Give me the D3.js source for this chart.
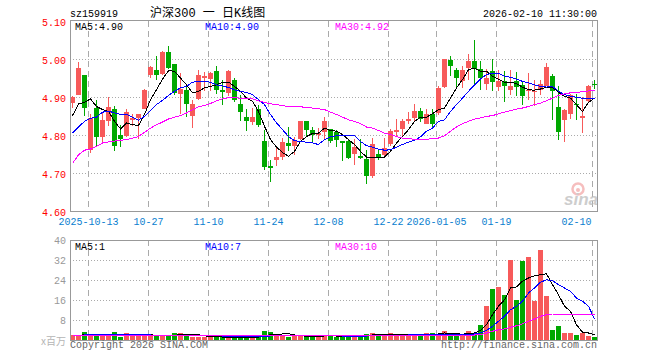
<!doctype html>
<html lang="zh">
<head>
  <meta charset="utf-8">
  <title>沪深300 日K线图</title>
  <style>
    body { margin: 0; background: #fff; }
    svg { display: block; }
    text { font-family: "Liberation Mono", "DejaVu Sans Mono", monospace; font-size: 10px; }
    .grid-h { stroke: #aaa; stroke-dasharray: 1,2; shape-rendering: crispEdges; }
    .grid-v { stroke: #aaa; stroke-dasharray: 6,4; shape-rendering: crispEdges; }
    .frame { fill: none; stroke: #999; shape-rendering: crispEdges; }
    .ma { fill: none; stroke-width: 1; shape-rendering: crispEdges; }
  </style>
</head>
<body>
  <div id="chart"></div>

  <script src="https://cdn.jsdelivr.net/npm/d3@7/dist/d3.min.js"></script>
  <script>
  // daily candles sz159919, 2025-09-30 .. 2026-02-10 (88 sessions)
  var opens = [4.884,4.906,4.959,4.761,4.871,4.796,4.836,4.869,4.800,4.798,
    4.839,4.844,4.869,4.957,4.972,4.961,5.018,4.986,4.909,4.919,
    4.851,4.895,4.950,4.947,4.968,4.918,4.911,4.946,4.882,4.847,
    4.833,4.868,4.783,4.718,4.733,4.742,4.779,4.770,4.789,4.836,
    4.814,4.800,4.807,4.816,4.807,4.783,4.783,4.751,4.744,4.737,
    4.693,4.751,4.748,4.775,4.809,4.816,4.836,4.845,4.862,4.830,
    4.856,4.858,4.926,4.998,4.970,4.941,4.976,4.996,4.974,4.935,
    4.968,4.926,4.941,4.918,4.941,4.932,4.916,4.912,4.919,4.930,
    4.956,4.874,4.839,4.854,4.882,4.844,4.889,4.934];
  var closes = [4.900,4.977,4.871,4.845,4.794,4.840,4.874,4.770,4.789,4.861,
    4.846,4.856,4.919,4.979,4.959,5.018,4.977,4.911,4.921,4.882,
    4.882,4.959,4.956,4.963,4.918,4.912,4.968,4.893,4.860,4.836,
    4.847,4.827,4.715,4.712,4.741,4.781,4.770,4.786,4.836,4.812,
    4.801,4.806,4.836,4.783,4.786,4.779,4.739,4.768,4.739,4.691,
    4.777,4.739,4.767,4.810,4.814,4.836,4.843,4.862,4.842,4.854,
    4.830,4.924,5.000,4.981,4.950,4.970,4.996,4.974,4.950,4.950,
    4.939,4.941,4.928,4.928,4.926,4.902,4.919,4.915,4.935,4.978,
    4.915,4.807,4.867,4.904,4.880,4.851,4.930,4.933];
  var highs = [4.903,4.993,4.959,4.856,4.893,4.860,4.900,4.875,4.827,4.868,
    4.856,4.856,4.922,4.982,5.007,5.021,5.033,4.986,4.963,4.932,
    4.891,4.970,4.966,4.967,4.981,4.946,4.972,4.951,4.906,4.868,
    4.871,4.879,4.814,4.735,4.770,4.792,4.821,4.796,4.836,4.836,
    4.821,4.819,4.847,4.816,4.814,4.783,4.788,4.789,4.789,4.761,
    4.792,4.760,4.792,4.816,4.842,4.842,4.860,4.882,4.871,4.869,
    4.869,4.930,5.000,5.009,4.976,4.982,5.014,5.051,4.994,4.974,
    5.000,4.972,4.968,4.970,4.965,4.939,4.963,4.944,4.944,4.989,
    4.961,4.928,4.868,4.907,4.907,4.900,4.932,4.944];
  var lows = [4.871,4.904,4.851,4.753,4.770,4.779,4.823,4.757,4.768,4.795,
    4.823,4.789,4.869,4.949,4.944,4.959,4.974,4.906,4.856,4.847,
    4.818,4.893,4.915,4.915,4.907,4.880,4.902,4.886,4.836,4.810,
    4.827,4.821,4.707,4.675,4.719,4.735,4.757,4.748,4.787,4.795,
    4.779,4.789,4.789,4.779,4.768,4.731,4.737,4.722,4.737,4.672,
    4.687,4.735,4.746,4.772,4.798,4.798,4.830,4.836,4.833,4.830,
    4.816,4.853,4.924,4.954,4.921,4.924,4.946,4.935,4.919,4.918,
    4.915,4.915,4.886,4.904,4.902,4.880,4.893,4.877,4.906,4.928,
    4.840,4.786,4.781,4.842,4.839,4.804,4.886,4.921];

  // price moving averages as drawn
  var ma5 = [4.851,4.882,4.886,4.895,4.875,4.867,4.862,4.836,4.816,4.832,
    4.827,4.825,4.854,4.893,4.919,4.947,4.969,4.968,4.950,4.932,
    4.911,4.915,4.924,4.928,4.932,4.939,4.939,4.928,4.915,4.897,
    4.889,4.862,4.823,4.788,4.768,4.754,4.744,4.757,4.783,4.796,
    4.804,4.805,4.818,4.812,4.810,4.801,4.788,4.775,4.757,4.742,
    4.742,4.742,4.742,4.757,4.779,4.796,4.814,4.836,4.847,4.847,
    4.856,4.867,4.871,4.897,4.924,4.946,4.972,4.976,4.968,4.968,
    4.954,4.947,4.939,4.939,4.935,4.926,4.919,4.918,4.921,4.926,
    4.926,4.912,4.902,4.897,4.880,4.862,4.886,4.897];
  var ma10 = [4.805,4.821,4.836,4.844,4.847,4.860,4.863,4.858,4.854,4.854,
    4.847,4.839,4.849,4.865,4.880,4.891,4.904,4.915,4.924,4.928,
    4.939,4.941,4.941,4.939,4.932,4.929,4.925,4.919,4.915,4.912,
    4.906,4.893,4.880,4.854,4.832,4.814,4.796,4.785,4.783,4.781,
    4.779,4.775,4.788,4.795,4.798,4.798,4.798,4.798,4.783,4.772,
    4.768,4.763,4.760,4.761,4.768,4.775,4.781,4.786,4.795,4.810,
    4.818,4.836,4.840,4.862,4.880,4.897,4.915,4.932,4.947,4.959,
    4.963,4.963,4.954,4.952,4.947,4.941,4.937,4.932,4.928,4.926,
    4.928,4.915,4.906,4.902,4.899,4.897,4.897,4.897];
  var ma30 = [4.725,4.748,4.760,4.763,4.770,4.779,4.782,4.784,4.786,4.788,
    4.792,4.796,4.807,4.818,4.827,4.834,4.842,4.847,4.851,4.858,
    4.867,4.874,4.878,4.883,4.890,4.895,4.898,4.898,4.897,4.895,
    4.895,4.890,4.886,4.882,4.880,4.877,4.875,4.874,4.874,4.873,
    4.871,4.869,4.867,4.860,4.854,4.847,4.840,4.836,4.830,4.821,
    4.818,4.812,4.805,4.801,4.796,4.792,4.790,4.789,4.789,4.789,
    4.790,4.792,4.798,4.810,4.821,4.830,4.836,4.842,4.845,4.849,
    4.851,4.856,4.860,4.864,4.868,4.871,4.875,4.880,4.884,4.890,
    4.897,4.904,4.908,4.911,4.912,4.914,4.916,4.918];

  // volume, millions of units
  var volumes = [1.9,1.9,3.1,2.1,1.9,1.9,1.9,3.1,1.3,2.7,
    1.9,1.9,1.9,1.9,1.6,1.6,1.6,2.9,2.9,1.9,
    1.3,1.3,1.3,1.2,1.2,1.2,1.2,1.2,1.2,1.2,
    1.2,1.2,3.7,3.3,2.1,1.9,1.3,1.5,1.5,1.5,
    1.5,1.5,1.9,2.1,1.2,1.2,1.2,2.1,1.5,2.5,
    2.9,1.5,1.9,2.9,1.9,1.9,1.9,1.9,2.5,2.9,
    2.9,1.9,3.7,1.9,1.9,1.9,3.7,2.9,6.1,13.5,
    20.5,21.1,17.9,32.1,15.9,31.7,33.1,15.5,36.1,17.5,
    4.1,5.7,2.9,2.9,2.1,2.7,1.7,1.1];
  var volMa5 = [1.8,1.8,2.1,2.2,2.2,2.2,2.2,2.2,1.9,2.2,
    2.2,2.2,1.9,2.1,1.8,1.7,1.7,1.9,2.1,2.2,
    2.1,2.1,1.7,1.3,1.3,1.2,1.2,1.2,1.2,1.2,
    1.2,1.2,1.7,2.1,2.3,2.4,2.5,2.0,1.7,1.5,
    1.5,1.5,1.6,1.7,1.6,1.6,1.6,1.7,1.6,1.7,
    2.0,2.1,2.2,2.3,2.2,2.0,2.1,2.1,2.0,2.2,
    2.4,2.4,2.8,2.7,2.5,2.3,2.8,2.8,3.9,6.1,
    10.1,13.5,16.1,20.8,21.2,23.5,24.8,25.7,26.1,26.5,
    22.1,18.1,13.5,11.5,6.1,3.1,2.8,2.1];
  var volMa10 = [2.0,2.0,2.0,2.1,2.1,2.1,2.1,2.1,2.1,2.1,
    2.1,2.1,2.1,2.0,2.0,2.0,1.9,1.9,1.9,1.9,
    1.9,1.9,1.8,1.7,1.7,1.6,1.6,1.5,1.4,1.4,
    1.3,1.3,1.4,1.6,1.7,1.8,1.9,1.9,1.9,1.9,
    1.9,1.9,1.8,1.8,1.7,1.6,1.6,1.6,1.6,1.6,
    1.7,1.8,1.8,1.9,2.0,2.0,2.0,2.1,2.1,2.2,
    2.2,2.2,2.3,2.3,2.3,2.3,2.1,2.4,2.8,3.9,
    5.5,7.5,9.5,12.1,13.5,15.5,18.8,20.8,23.1,24.1,
    23.7,22.1,20.8,19.5,16.8,15.5,13.5,8.4];
  var volMa30 = [2.0,2.0,2.0,2.0,2.0,2.0,2.0,2.0,2.0,2.0,
    2.0,2.0,2.0,2.0,2.0,2.0,2.0,2.0,2.0,2.0,
    1.9,1.9,1.9,1.9,1.9,1.9,1.9,1.9,1.9,1.9,
    1.9,1.9,1.9,1.9,1.9,1.9,1.9,1.9,1.9,1.9,
    1.9,1.8,1.8,1.8,1.8,1.8,1.8,1.8,1.8,1.8,
    1.8,1.8,1.8,1.8,1.8,1.8,1.8,1.8,1.8,1.8,
    1.8,1.9,1.9,1.9,1.9,2.0,2.0,2.0,2.1,2.8,
    3.5,4.1,4.4,5.1,5.7,6.5,7.5,8.4,9.5,10.1,
    10.4,10.4,10.4,10.4,10.4,10.4,10.4,10.4];

  // legend readouts as printed on the chart
  var priceLegend = [4.90, 4.90, 4.92];
  var volLegend = [1, 7, 10];

  // axis ticks
  var dateTickIdx = [3, 13, 23, 33, 43, 53, 61, 71, 87];
  var dateTickLabels = ["2025-10-13", "10-27", "11-10", "11-24", "12-08", "12-22", "2026-01-05", "01-19", "02-10"];
  var priceTicks = [4.60, 4.70, 4.80, 4.90, 5.00, 5.10];
  var volTicks = [8, 16, 24, 32, 40];

  (function(){
    var width = 660, height = 360;
    var upColor = "#f75a5a", downColor = "#00a800";
    var maColors = ["#000", "#0000ff", "#ff00ff"];

    var svg = d3.select("#chart").append("svg")
        .attr("width", width)
        .attr("height", height);

    // one slot of 6px per session, body 5px wide
    var x = d3.scaleLinear().domain([0, opens.length]).range([70, 598]);
    var y = d3.scaleLinear().domain([4.6, 5.1]).range([211, 21]);
    var yv = d3.scaleLinear().domain([0, 40]).range([340, 240]);
    var left = 70, right = x(opens.length) - 1;

    // header
    svg.append("text").attr("x", 70).attr("y", 16.5).text("sz159919");
    svg.append("text").attr("x", 150).attr("y", 17)
        .style("font-family", '"Liberation Mono", "Noto Sans CJK SC", monospace').style("font-size", "12px")
        .text("沪深300 一 日K线图");
    svg.append("text").attr("x", right).attr("y", 16.5).attr("text-anchor", "end")
        .text("2026-02-10 11:30:00");

    // grids
    svg.append("g").selectAll("line").data(priceTicks.slice(1, -1)).enter().append("line")
        .attr("class", "grid-h")
        .attr("x1", left).attr("x2", right)
        .attr("y1", function(d){ return Math.round(y(d)) + 0.5; })
        .attr("y2", function(d){ return Math.round(y(d)) + 0.5; });
    svg.append("g").selectAll("line").data(volTicks.slice(0, -1)).enter().append("line")
        .attr("class", "grid-h")
        .attr("x1", left).attr("x2", right)
        .attr("y1", function(d){ return yv(d) + 0.5; })
        .attr("y2", function(d){ return yv(d) + 0.5; });

    [[y(5.1), y(4.6)], [yv(40), yv(0)]].forEach(function(r){
      svg.append("g").selectAll("line").data(dateTickIdx).enter().append("line")
          .attr("class", "grid-v")
          .attr("x1", function(d){ return x(d) + 0.5; })
          .attr("x2", function(d){ return x(d) + 0.5; })
          .attr("y1", r[0]).attr("y2", r[1]);
    });

    // sina watermark
    var wm = svg.append("g").attr("opacity", 0.75);
    wm.append("circle").attr("cx", 578).attr("cy", 189).attr("r", 5.5)
        .attr("fill", "none").attr("stroke", "#f3a9a9").attr("stroke-width", 2.5);
    wm.append("circle").attr("cx", 578).attr("cy", 190).attr("r", 2).attr("fill", "#f3a9a9");
    wm.append("text").attr("x", 581).attr("y", 205).attr("text-anchor", "middle")
        .style("font-family", '"Liberation Sans", sans-serif')
        .style("font-size", "17px").style("font-weight", "bold").style("font-style", "italic")
        .attr("fill", "#bdbdbd").text("sina");

    // candles
    var idx = d3.range(opens.length);
    var candles = svg.append("g").attr("shape-rendering", "crispEdges");
    var colorOf = function(i){ return closes[i] >= opens[i] ? upColor : downColor; };
    candles.selectAll(".wick").data(idx).enter().append("rect")
        .attr("x", function(i){ return x(i) + 2; })
        .attr("width", 1)
        .attr("y", function(i){ return Math.round(y(highs[i])); })
        .attr("height", function(i){ return Math.max(1, Math.round(y(lows[i])) - Math.round(y(highs[i]))); })
        .attr("fill", colorOf);
    candles.selectAll(".body").data(idx).enter().append("rect")
        .attr("x", function(i){ return x(i); })
        .attr("width", 5)
        .attr("y", function(i){ return Math.round(y(Math.max(opens[i], closes[i]))); })
        .attr("height", function(i){
          return Math.max(1, Math.round(y(Math.min(opens[i], closes[i]))) - Math.round(y(Math.max(opens[i], closes[i]))));
        })
        .attr("fill", colorOf);

    // volume bars
    svg.append("g").attr("shape-rendering", "crispEdges")
      .selectAll("rect").data(idx).enter().append("rect")
        .attr("x", function(i){ return x(i); })
        .attr("width", 5)
        .attr("y", function(i){ return Math.round(yv(volumes[i])); })
        .attr("height", function(i){ return yv(0) - Math.round(yv(volumes[i])); })
        .attr("fill", colorOf);

    // moving average lines
    function drawLines(series, scale) {
      series.forEach(function(s, k){
        var line = d3.line()
            .x(function(d, i){ return x(i) + 2.5; })
            .y(function(d){ return scale(d); });
        svg.append("path").attr("class", "ma")
            .attr("stroke", maColors[k])
            .attr("d", line(s));
      });
    }
    drawLines([ma5, ma10, ma30], y);
    drawLines([volMa5, volMa10, volMa30], yv);

    // frames
    svg.append("path").attr("class", "frame")
        .attr("d", "M" + (left + 0.5) + "," + (y(5.1) - 0.5) + "H" + (right + 0.5) + "V" + (y(4.6) + 0.5)
          + "H" + (left + 0.5) + "Z");
    svg.append("path").attr("class", "frame")
        .attr("d", "M" + (left + 0.5) + "," + (yv(40) + 0.5) + "H" + (right + 0.5) + "V" + (yv(0) + 0.5)
          + "H" + (left + 0.5) + "Z");

    // price axis labels
    svg.append("g").selectAll("text").data(priceTicks).enter().append("text")
        .attr("x", 66).attr("y", function(d){ return y(d) + 4.5; })
        .attr("text-anchor", "end").attr("fill", "#f00")
        .text(function(d){ return d.toFixed(2); });
    svg.append("g").selectAll("text").data(volTicks).enter().append("text")
        .attr("x", 66).attr("y", function(d){ return yv(d) + 4; })
        .attr("text-anchor", "end").attr("fill", "#999")
        .text(function(d){ return d; });
    svg.append("text").attr("x", 66).attr("y", 345).attr("text-anchor", "end")
        .attr("fill", "#b5b5b5")
        .style("font-family", '"Noto Sans CJK SC", sans-serif').style("font-size", "10px")
        .text("x百万");

    // date labels, last one kept inside the frame
    svg.append("g").selectAll("text").data(dateTickIdx).enter().append("text")
        .attr("y", 225).attr("fill", "#0a80d0")
        .attr("x", function(d, i){
          var w = dateTickLabels[i].length * 6;
          return Math.min(x(d) + 0.5 - w / 2, 591.5 - w);
        })
        .text(function(d, i){ return dateTickLabels[i]; });

    // MA legends
    var names = ["MA5:", "MA10:", "MA30:"];
    var legX = [75, 205, 335];
    names.forEach(function(n, k){
      svg.append("text").attr("x", legX[k]).attr("y", 29.5)
          .attr("fill", maColors[k]).text(n + priceLegend[k].toFixed(2));
      svg.append("text").attr("x", legX[k]).attr("y", 250)
          .attr("fill", maColors[k]).text(n + volLegend[k]);
    });

    // footer
    svg.append("text").attr("x", 70).attr("y", 348).attr("fill", "#666").text("Copyright 2026 SINA.COM");
    svg.append("text").attr("x", right).attr("y", 348).attr("text-anchor", "end")
        .attr("fill", "#666").text("http://finance.sina.com.cn");
  })();
  </script>
</body>
</html>
